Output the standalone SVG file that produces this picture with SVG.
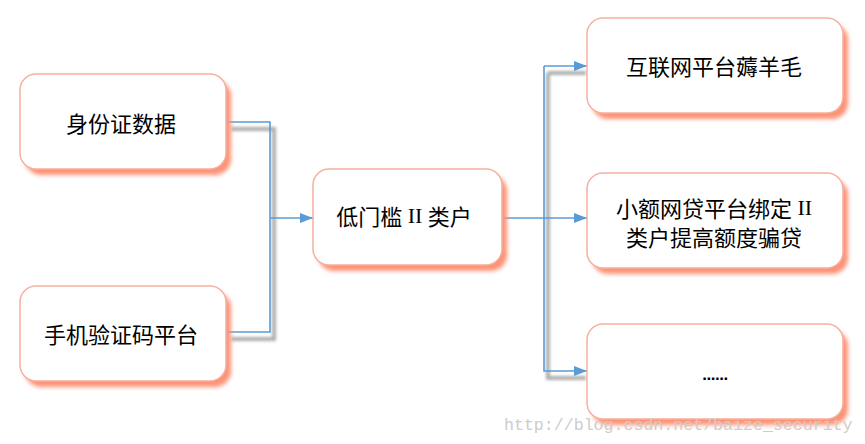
<svg xmlns="http://www.w3.org/2000/svg" width="865" height="444" viewBox="0 0 865 444">
<defs>
<filter id="bs" x="-20%" y="-20%" width="140%" height="140%"><feGaussianBlur stdDeviation="2.2"/></filter>
<filter id="cs" x="-20%" y="-20%" width="140%" height="140%"><feGaussianBlur stdDeviation="1.8"/></filter>
<marker id="ah" markerWidth="13" markerHeight="10" refX="13" refY="5" orient="auto" markerUnits="userSpaceOnUse"><path d="M0,0 L13,5 L0,10 Z" fill="#5B9BD5"/></marker>
</defs>
<style>
.sh{fill:#FF9275;filter:url(#bs)}
.bx{fill:#fff;stroke:#F5B0A0;stroke-width:1.5}
.t{font-family:"Noto Sans CJK SC","Liberation Serif",serif;font-size:22px;fill:#000;text-anchor:middle;dominant-baseline:central}
.r{font-family:"Liberation Serif",serif}
.c{fill:none;stroke:#5B9BD5;stroke-width:1.6}
.cw{fill:none;stroke:#AFAFAF;stroke-width:4;filter:url(#cs)}
</style>
<g id="connectors">
<path class="cw" d="M231,129 H274 V339 H231"/>
<path class="cw" d="M274,225 H312"/>
<path class="cw" d="M506,225 H586"/>
<path class="cw" d="M548,73 H586 M548,73 V378 H586"/>
<path class="c" d="M226,122 H270 V332 H226"/>
<path class="c" d="M270,218 H313" marker-end="url(#ah)"/>
<path class="c" d="M502,218 H544" stroke-width="2.6"/>
<path class="c" d="M544,218 H587" marker-end="url(#ah)"/>
<path class="c" d="M544,66 H587" marker-end="url(#ah)"/>
<path class="c" d="M544,66 V371 H587" marker-end="url(#ah)"/>
</g>
<g id="n1"><rect class="sh" x="25" y="80" width="206" height="95" rx="16"/><rect class="bx" x="20" y="74" width="206" height="95" rx="16"/><text class="t" x="121" y="122">身份证数据</text></g>
<g id="n2"><rect class="sh" x="25" y="292" width="206" height="95" rx="16"/><rect class="bx" x="20" y="286" width="206" height="95" rx="16"/><text class="t" x="121" y="333">手机验证码平台</text></g>
<g id="n3"><rect class="sh" x="318" y="175" width="189" height="96" rx="16"/><rect class="bx" x="313" y="169" width="189" height="96" rx="16"/><text class="t" x="404" y="215">低门槛<tspan class="r"> II </tspan>类户</text></g>
<g id="n4"><rect class="sh" x="592" y="24" width="256" height="95" rx="16"/><rect class="bx" x="587" y="18" width="256" height="95" rx="16"/><text class="t" x="714" y="65">互联网平台薅羊毛</text></g>
<g id="n5"><rect class="sh" x="592" y="179" width="256" height="95" rx="16"/><rect class="bx" x="587" y="173" width="256" height="95" rx="16"/><text class="t" x="714" y="207">小额网贷平台绑定<tspan class="r"> II</tspan></text><text class="t" x="714" y="236">类户提高额度骗贷</text></g>
<g id="n6"><rect class="sh" x="592" y="330" width="256" height="95" rx="16"/><rect class="bx" x="587" y="324" width="256" height="95" rx="16"/><text x="715" y="380" font-family="Liberation Sans, sans-serif" font-size="17" font-weight="bold" letter-spacing="-0.5" text-anchor="middle" fill="#000">......</text></g>
<text x="504" y="430" font-family="Liberation Mono, monospace" font-size="16.6" fill="#D0CCC8">http://blog.csdn.net/baize_security</text>
</svg>
